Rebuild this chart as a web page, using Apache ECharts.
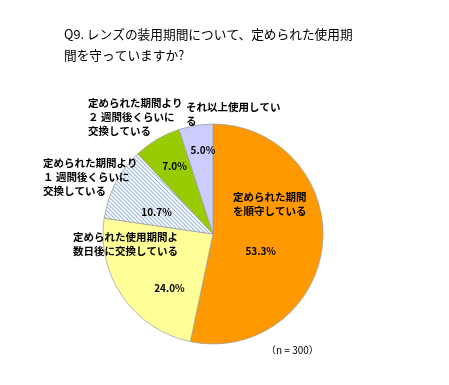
<!DOCTYPE html>
<html><head><meta charset="utf-8">
<script src="https://cdn.jsdelivr.net/npm/echarts@6/dist/echarts.min.js"></script>
<style>html,body{margin:0;padding:0;background:#fff}#c{width:449px;height:385px}</style>
</head><body><div id="c"></div>
<script>
var titleLines = ['Q9. レンズの装用期間について、定められた使用期', '間を守っていますか?'];
var categories = ['定められた期間を順守している', '定められた使用期間よ数日後に交換している', '定められた期間より１週間後くらいに交換している', '定められた期間より２週間後くらいに交換している', 'それ以上使用している'];
var categoryLabelLines = [
  ['定められた期間', 'を順守している'],
  ['定められた使用期間よ', '数日後に交換している'],
  ['定められた期間より', '１ 週間後くらいに', '交換している'],
  ['定められた期間より', '２ 週間後くらいに', '交換している'],
  ['それ以上使用してい', 'る']
];
var values = [53.3, 24.0, 10.7, 7.0, 5.0];
var note = '（n = 300）';

// styles
var colors = ['#FF9900', '#FFFF99', null, '#99CC00', '#CCCCFF'];
var pctOffsets = [[-10, 11], [4, 21], [-5, 5], [-9, -18], [-1, -27]];
var catPos = [[233, 190], [73, 230], [43, 156], [88, 96], [186, 100]];

var pc = document.createElement('canvas');
pc.width = 4; pc.height = 4;
var g = pc.getContext('2d');
g.fillStyle = '#ffffff'; g.fillRect(0, 0, 4, 4);
g.strokeStyle = '#9BBAE0'; g.lineWidth = 1.1;
g.beginPath(); g.moveTo(-1, -1); g.lineTo(5, 5); g.moveTo(-1, 3); g.lineTo(1, 5); g.moveTo(3, -1); g.lineTo(5, 1); g.stroke();
colors[2] = {image: pc, repeat: 'repeat'};

var chart = echarts.init(document.getElementById('c'), null, {renderer: 'canvas'});
var font = '"Noto Sans CJK JP", sans-serif';
var data = categories.map(function (c, i) {
  return {
    name: c, value: values[i],
    itemStyle: {color: colors[i]},
    label: {offset: pctOffsets[i]}
  };
});
var graphics = [];
titleLines.forEach(function (t, i) {
  graphics.push({type: 'text', z: 100, left: 64, top: 28 + i * 21, style: {text: t, font: '12.7px ' + font, fill: '#000'}});
});
categoryLabelLines.forEach(function (lines, i) {
  graphics.push({type: 'text', z: 100, left: catPos[i][0], top: catPos[i][1],
    style: {text: lines.join('\n'), font: 'bold 10.5px ' + font, lineHeight: 14, fill: '#000'}});
});
graphics.push({type: 'text', z: 100, left: 266, top: 345, style: {text: note, font: '10px ' + font, fill: '#000'}});

chart.setOption({
  animation: false,
  backgroundColor: '#fff',
  series: [{
    type: 'pie',
    z: 1,
    center: [213, 234],
    radius: [0, 110],
    startAngle: 90,
    clockwise: true,
    data: data,
    itemStyle: {borderColor: '#999', borderWidth: 0.7},
    label: {show: true, position: 'inside', formatter: function (p) { return p.value.toFixed(1) + '%'; },
      fontFamily: font, fontWeight: 'bold', fontSize: 10, color: '#000'},
    labelLine: {show: false},
    emphasis: {disabled: true}
  }],
  graphic: graphics
});
</script></body></html>
